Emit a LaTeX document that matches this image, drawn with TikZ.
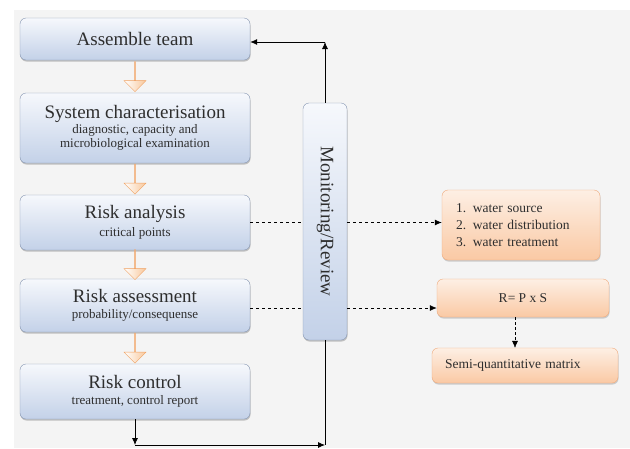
\documentclass[tikz,border=0pt]{standalone}
\usepackage{fontspec}
\setmainfont{Liberation Serif}
\usepackage{xcolor}
\usetikzlibrary{
    arrows.meta,
    shapes.arrows,
    shadows,
    calc,
    positioning
}
\definecolor{bggray}{HTML}{F4F4F4}
\definecolor{textgray}{HTML}{2E2E2E}
\definecolor{bluetop}{HTML}{F6F8FC}
\definecolor{bluebot}{HTML}{C3D1E8}
\definecolor{blueedge}{HTML}{8696B2}
\definecolor{orangetop}{HTML}{FDEFE4}
\definecolor{orangebot}{HTML}{FAC9A4}
\definecolor{orangeedge}{HTML}{EFAA7C}
\definecolor{arrowedge}{HTML}{F0A060}
\definecolor{arrowfill}{HTML}{F8C79A}
\newcommand{\titlefont}{\fontsize{19}{21}\selectfont}
\newcommand{\subfont}{\fontsize{13}{14.5}\selectfont}
\newcommand{\notefont}{\fontsize{13.5}{17}\selectfont}

\begin{document}
\begin{tikzpicture}[
    x=1pt,
    y=-1pt,
    bluebox/.style={
        draw=blueedge,
        rounded corners=6pt,
        top color=bluetop,
        bottom color=bluebot,
        drop shadow={shadow xshift=0.5pt, shadow yshift=-1.5pt, opacity=0.45},
        align=center,
        text=textgray,
        font=\subfont,
        inner sep=2pt,
    },
    orangebox/.style={
        draw=orangeedge,
        rounded corners=6pt,
        top color=orangetop,
        bottom color=orangebot,
        drop shadow={shadow xshift=0.5pt, shadow yshift=-1.5pt, opacity=0.35},
        text=textgray,
        font=\notefont,
    },
    downarrow/.style={
        single arrow,
        draw=arrowedge,
        left color=white,
        right color=arrowfill,
        rotate=-90,
        minimum height=30pt,
        minimum width=22pt,
        single arrow head extend=6pt,
        inner sep=0pt,
    },
    tip/.style={-{Latex[length=7pt,width=6pt]}},
]
    \fill[white] (0,0) rectangle (630,448);
    \fill[bggray] (14,10) rectangle (630,448);

    \node[bluebox, minimum width=230pt, minimum height=42pt] (assemble) at (135,39)
        {\titlefont Assemble team};
    \node[bluebox, minimum width=230pt, minimum height=70pt] (syschar) at (135,128)
        {{\titlefont System characterisation}\\diagnostic, capacity and\\microbiological examination};
    \node[bluebox, minimum width=230pt, minimum height=55pt] (analysis) at (135,222.5)
        {{\titlefont Risk analysis}\\[3pt]critical points};
    \node[bluebox, minimum width=230pt, minimum height=53pt] (assessment) at (135,305.5)
        {{\titlefont Risk assessment}\\[2pt]probability/consequense};
    \node[bluebox, minimum width=230pt, minimum height=55pt] (control) at (135,391.5)
        {{\titlefont Risk control}\\[2pt]treatment, control report};

    \node[bluebox, minimum width=44pt, minimum height=237pt] (monitor) at (325,221.5) {};
    \node[rotate=-90, text=textgray, font=\titlefont] (monitortext) at (monitor.center)
        {Monitoring/Review};

    \node[
        orangebox,
        minimum width=158pt,
        minimum height=70pt,
        text width=130pt,
        align=left,
    ] (sources) at (521,225) {1. water source\\2. water distribution\\3. water treatment};
    \node[
        orangebox,
        minimum width=172pt,
        minimum height=38pt,
        align=center,
    ] (formula) at (523,298) {R= P x S};
    \node[
        orangebox,
        minimum width=186pt,
        minimum height=35pt,
        text width=160pt,
        align=left,
    ] (matrix) at (525,365.5) {Semi-quantitative matrix};

    \node[downarrow] (a1) at ($(assemble.south)!0.5!(syschar.north)$) {};
    \node[downarrow] (a2) at ($(syschar.south)!0.5!(analysis.north)$) {};
    \node[downarrow] (a3) at ($(analysis.south)!0.5!(assessment.north)$) {};
    \node[downarrow] (a4) at ($(assessment.south)!0.5!(control.north)$) {};

    \draw[dashed, thick] (analysis.east) -- (analysis.east -| monitor.west);
    \draw[dashed, thick, tip] (analysis.east -| monitor.east) -- (analysis.east -| sources.west);
    \draw[dashed, thick] ([yshift=-2.5pt]assessment.east) -- ([yshift=-2.5pt]assessment.east -| monitor.west);
    \draw[dashed, thick, tip] ([yshift=-2.5pt]assessment.east -| monitor.east) -- ([yshift=-2.5pt]assessment.east -| formula.west);
    \draw[densely dashed, tip] ([xshift=-8pt]formula.south) -- ([xshift=-8pt]formula.south |- matrix.north);

    \coordinate (loopleft) at (135,445);
    \coordinate (loopright) at (325,445);
    \coordinate (looptop) at (325,42);
    \draw[thick, tip] (control.south) -- (loopleft);
    \draw[thick, tip] (loopleft) -- (loopright);
    \draw[thick] (monitor.south) -- (loopright);
    \draw[thick, tip] (monitor.north) -- (looptop);
    \draw[thick, tip] (looptop) -- (looptop -| assemble.east);
\end{tikzpicture}
\end{document}
